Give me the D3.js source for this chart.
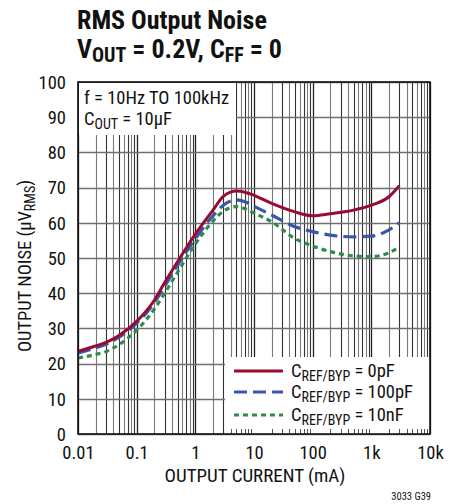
<!DOCTYPE html>
<html><head><meta charset="utf-8">
<script src="https://cdn.jsdelivr.net/npm/d3@7"></script>
<style>
body{margin:0;background:#fff}
svg text{font-family:"Liberation Sans Narrow","Roboto Condensed","Arial Narrow","Liberation Sans",sans-serif;fill:#111}
</style></head>
<body><svg id="c" width="462" height="504"></svg>
<script>
const currents = [0.01,0.02,0.03,0.05,0.1,0.2,0.3,0.5,1,2,3,5,7,10,20,50,100,200,500,1000,2000,3000];
const noise0pF   = [23.5,25,26,28,32,38,43,49,56.8,63.6,67.5,69,68.7,67.8,65.5,63.1,62,62.6,63.6,65,67.4,70.5];
const noise100pF = [23,24.5,25.5,27.5,31.5,37.3,42,48,55.5,62,65,66.5,66,64.7,62.2,58.9,57.5,56.5,56,56.2,58,60];
const noise10nF  = [21.6,22.6,23.4,25.4,29.5,35.5,40,46,54,60.5,63.3,64.6,64,62.8,60.3,55.5,53.4,51.8,50.6,50.4,51.5,53.2];
const xTickValues = [0.01,0.1,1,10,100,1000,10000];
const xTickLabels = ["0.01","0.1","1","10","100","1k","10k"];
const yTickValues = [0,10,20,30,40,50,60,70,80,90,100];
const legendLabels = ["0pF","100pF","10nF"];

const svg = d3.select("#c");
const L=78,R=430,T=82,B=434;
const FS=18.5, SUB=14;
const x = d3.scaleLog().domain([0.01,10000]).range([L,R]);
const y = d3.scaleLinear().domain([0,100]).range([B,T]);

// grid
const g = svg.append("g");
const minor=[];
for(let d=-2; d<4; d++){ for(let k=2;k<=9;k++) minor.push(k*Math.pow(10,d)); }
g.selectAll(".mn").data(minor).enter().append("line")
  .attr("x1",d=>Math.round(x(d))+0.5).attr("x2",d=>Math.round(x(d))+0.5)
  .attr("y1",T).attr("y2",B).attr("stroke",(d,i)=> (i%2? "#333":"#7a7a7a")).attr("stroke-width",1.1);
g.selectAll(".mj").data(xTickValues).enter().append("line")
  .attr("x1",d=>Math.round(x(d))+0.5).attr("x2",d=>Math.round(x(d))+0.5)
  .attr("y1",T).attr("y2",B).attr("stroke","#222").attr("stroke-width",1.3);
g.selectAll(".hy").data(yTickValues).enter().append("line")
  .attr("x1",L).attr("x2",R).attr("y1",d=>Math.round(y(d))+0.5).attr("y2",d=>Math.round(y(d))+0.5)
  .attr("stroke","#6f6f6f").attr("stroke-width",1.4);

// annotation box
svg.append("rect").attr("x",L+1).attr("y",T+1).attr("width",157).attr("height",52).attr("fill","#fff");
const ann = svg.append("text").attr("x",84).attr("y",104).attr("font-size",FS);
ann.text("f = 10Hz TO 100kHz");
const ann2 = svg.append("text").attr("x",84).attr("y",125).attr("font-size",FS);
ann2.append("tspan").text("C");
ann2.append("tspan").attr("font-size",SUB).attr("dy",4).text("OUT");
ann2.append("tspan").attr("dy",-4).text(" = 10µF");

// legend box
svg.append("rect").attr("x",225).attr("y",357).attr("width",R-225).attr("height",B-357).attr("fill","#fff");
svg.selectAll(".bt").data(minor.filter(d=>x(d)>225)).enter().append("line")
  .attr("x1",d=>Math.round(x(d))+0.5).attr("x2",d=>Math.round(x(d))+0.5)
  .attr("y1",B-5).attr("y2",B).attr("stroke","#555");

// curves
const series=[
  {v:noise0pF,color:"#9a0b31",dash:null,w:3},
  {v:noise100pF,color:"#3a56a9",dash:"13,6",w:3.2},
  {v:noise10nF,color:"#2f8b4c",dash:"5,4",w:3.2}
];
const line = d3.line().x(d=>x(d[0])).y(d=>y(d[1])).curve(d3.curveMonotoneX);
series.slice().reverse().forEach(s=>{
  svg.append("path").datum(currents.map((c,i)=>[c,s.v[i]]))
   .attr("d",line).attr("fill","none").attr("stroke",s.color).attr("stroke-width",s.w)
   .attr("stroke-dasharray",s.dash);
});

// frame
svg.append("rect").attr("x",L).attr("y",T).attr("width",R-L).attr("height",B-T)
  .attr("fill","none").attr("stroke","#111").attr("stroke-width",1.6);

// legend
const ly=[371,392,415];
series.forEach((s,i)=>{
  svg.append("line").attr("x1",234).attr("x2",283).attr("y1",ly[i]).attr("y2",ly[i])
    .attr("stroke",s.color).attr("stroke-width",s.w).attr("stroke-dasharray",s.dash);
  const t=svg.append("text").attr("x",291).attr("y",ly[i]+6).attr("font-size",FS);
  t.append("tspan").text("C");
  t.append("tspan").attr("font-size",SUB).attr("dy",4).text("REF/BYP");
  t.append("tspan").attr("dy",-4).text(" = "+legendLabels[i]);
});

// axes labels
const xa = d3.axisBottom(x).tickValues(xTickValues).tickFormat((d,i)=>xTickLabels[i]).tickSize(0).tickPadding(12);
svg.append("g").attr("transform",`translate(0,${B})`).call(xa)
  .call(a=>a.select(".domain").remove())
  .selectAll("text").attr("font-size",FS).attr("fill","#111").attr("font-family",null);
const ya = d3.axisLeft(y).tickValues(yTickValues).tickSize(0).tickPadding(12);
svg.append("g").attr("transform",`translate(${L},0)`).call(ya)
  .call(a=>a.select(".domain").remove())
  .selectAll("text").attr("font-size",FS).attr("fill","#111").attr("font-family",null).attr("dy","0.34em");

svg.append("text").attr("x",255).attr("y",482).attr("text-anchor","middle").attr("font-size",FS+0.5).text("OUTPUT CURRENT (mA)");
const yt = svg.append("text").attr("transform","translate(31,266) rotate(-90)").attr("text-anchor","middle").attr("font-size",FS);
yt.append("tspan").text("OUTPUT NOISE (µV");
yt.append("tspan").attr("font-size",SUB).attr("dy",4).text("RMS");
yt.append("tspan").attr("dy",-4).text(")");
svg.append("text").attr("x",431).attr("y",500).attr("text-anchor","end").attr("font-size",10.5).text("3033 G39");

// title
svg.append("text").attr("x",77).attr("y",29).attr("font-size",26).attr("font-weight","bold").text("RMS Output Noise");
const t2 = svg.append("text").attr("x",77).attr("y",58).attr("font-size",26).attr("font-weight","bold");
t2.append("tspan").text("V");
t2.append("tspan").attr("font-size",20).attr("dy",4).text("OUT");
t2.append("tspan").attr("dy",-4).text(" = 0.2V, C");
t2.append("tspan").attr("font-size",20).attr("dy",4).text("FF");
t2.append("tspan").attr("dy",-4).text(" = 0");
</script></body></html>
